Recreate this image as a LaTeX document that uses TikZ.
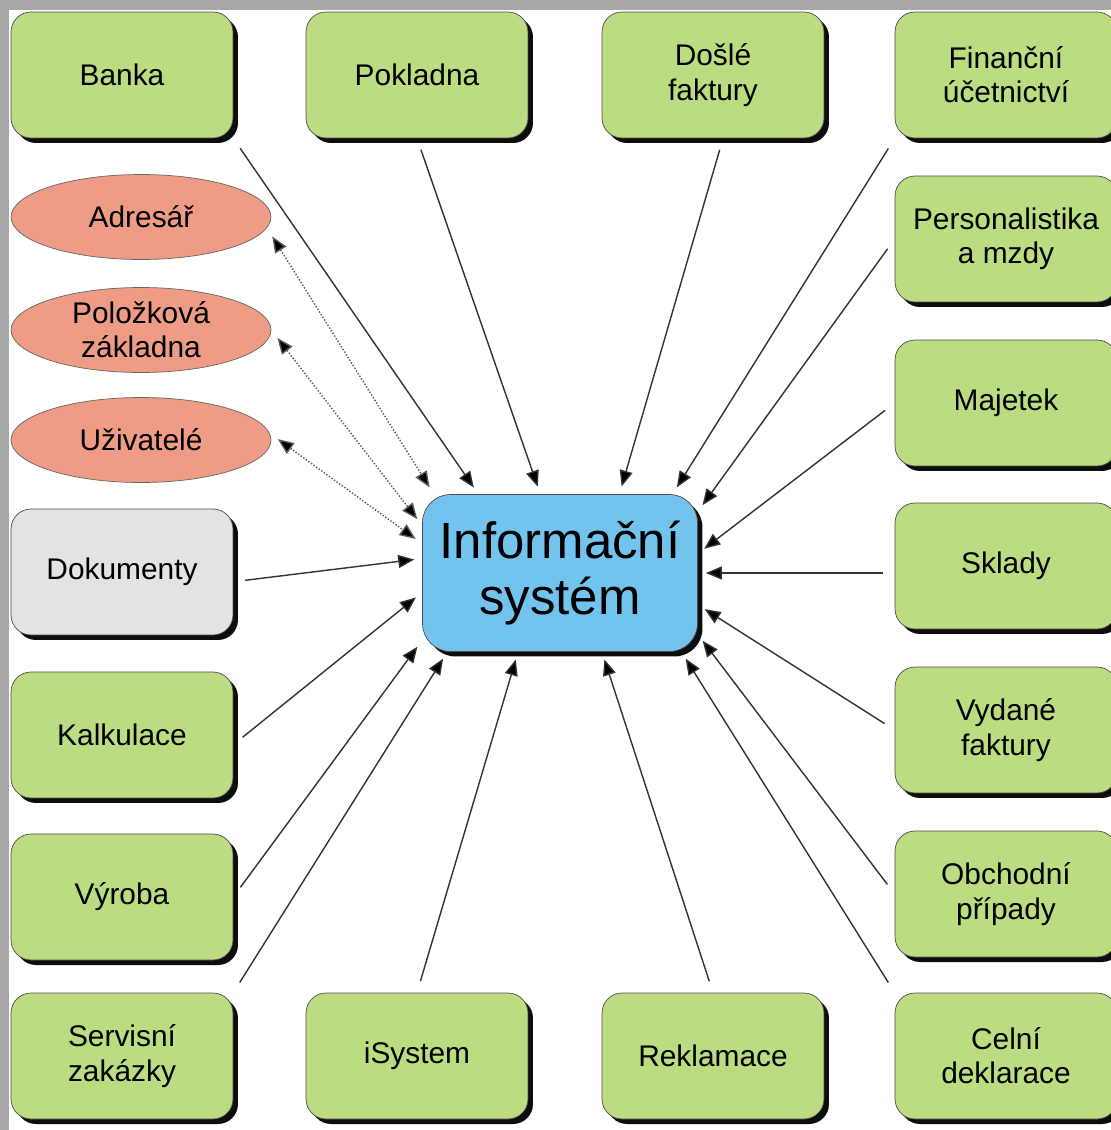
\documentclass[tikz,border=0pt]{standalone}
\usepackage{fontspec}
\setmainfont{Liberation Sans}
\usepackage{tikz}
\usetikzlibrary{arrows.meta}
\usetikzlibrary{shapes.geometric}
\usetikzlibrary{shadows}
\definecolor{modulgreen}{HTML}{BBDC80}
\definecolor{systemblue}{HTML}{72C4EE}
\definecolor{listsalmon}{HTML}{EE9C85}
\definecolor{docgray}{HTML}{E2E3E5}

\begin{document}
\begin{tikzpicture}[x=0.02cm, y=-0.02cm,
                modul/.style={draw=black!70, fill=modulgreen, rounded corners=0.4cm,
                    minimum width=4.44cm, minimum height=2.52cm, align=center,
                    font=\fontsize{17}{19.5}\selectfont,
                    drop shadow={shadow xshift=0.1cm, shadow yshift=-0.1cm, opacity=0.95, fill=black}},
                seznam/.style={draw=black!60, fill=listsalmon, ellipse, inner sep=0pt,
                    minimum width=5.2cm, minimum height=1.7cm, align=center,
                    font=\fontsize{17}{19.5}\selectfont},
                feed/.style={-{Triangle[length=0.32cm,width=0.26cm,fill=black]}, line width=0.8pt, black!80,
                    shorten <=0.24cm, shorten >=0.16cm},
                link/.style={{Triangle[length=0.32cm,width=0.26cm,fill=black]}-{Triangle[length=0.32cm,width=0.26cm,fill=black]},
                    line width=0.8pt, black!65, densely dotted, shorten <=0.2cm, shorten >=0.16cm}]
                \useasboundingbox (0,0) rectangle (1111,1130);
                \fill[black!34] (0,0) rectangle (1111,1130);
                \fill[white] (9,10) rectangle (1111,1130);

                \node[modul] (banka) at (122,75) {Banka};
                \node[modul] (pokladna) at (417,75) {Pokladna};
                \node[modul] (dosle) at (713,75) {Došlé\\faktury};
                \node[modul] (financni) at (1006,75) {Finanční\\účetnictví};
                \node[modul] (personal) at (1006,239) {Personalistika\\a mzdy};
                \node[modul] (majetek) at (1006,403) {Majetek};
                \node[modul] (sklady) at (1006,566) {Sklady};
                \node[modul] (vydane) at (1006,730) {Vydané\\faktury};
                \node[modul] (obchod) at (1006,894) {Obchodní\\případy};
                \node[modul] (celni) at (1006,1056) {Celní\\deklarace};
                \node[modul] (reklamace) at (713,1056) {Reklamace};
                \node[modul] (isystem) at (417,1056) {iSystem};
                \node[modul] (servis) at (122,1056) {Servisní\\zakázky};
                \node[modul] (vyroba) at (122,897) {Výroba};
                \node[modul] (kalkulace) at (122,735) {Kalkulace};
                \node[modul, fill=docgray] (dokumenty) at (122,572) {Dokumenty};

                \node[seznam] (adresar) at (141,217) {Adresář};
                \node[seznam] (polozkova) at (141,330) {Položková\\základna};
                \node[seznam] (uzivatele) at (141,440) {Uživatelé};

                \node[modul, fill=systemblue, rounded corners=0.56cm, minimum width=5.5cm,
                    minimum height=3.14cm, font=\fontsize{29}{32}\selectfont] (is) at (560,573) {Informační\\systém};

                \draw[feed] (banka.south east) -- (is.136);
                \draw[feed] (pokladna.south) -- (is.104);
                \draw[feed] (dosle.-81) -- (is.53);
                \draw[feed] (financni.south west) -- (is.35);
                \draw[feed] (personal.west) -- (is.24);
                \draw[feed] (majetek.west) -- (is.8);
                \draw[feed] (is.east -| sklady.west) -- (is.east);
                \draw[feed] (vydane.west) -- (is.-13);
                \draw[feed] (obchod.west) -- (is.-24);
                \draw[feed] (celni.north west) -- (is.-33);
                \draw[feed] (reklamace.north) -- (is.-62);
                \draw[feed] (isystem.north) -- (is.-118);
                \draw[feed] (servis.north east) -- (is.-145);
                \draw[feed] (vyroba.east) -- (is.206);
                \draw[feed] (kalkulace.-5) -- (is.188);
                \draw[feed] (dokumenty.-5) -- (is.174);

                \draw[link] (adresar.-5) -- (is.148);
                \draw[link] (polozkova.east) -- (is.161);
                \draw[link] (uzivatele.3) -- (is.168);
            \end{tikzpicture}
\end{document}
